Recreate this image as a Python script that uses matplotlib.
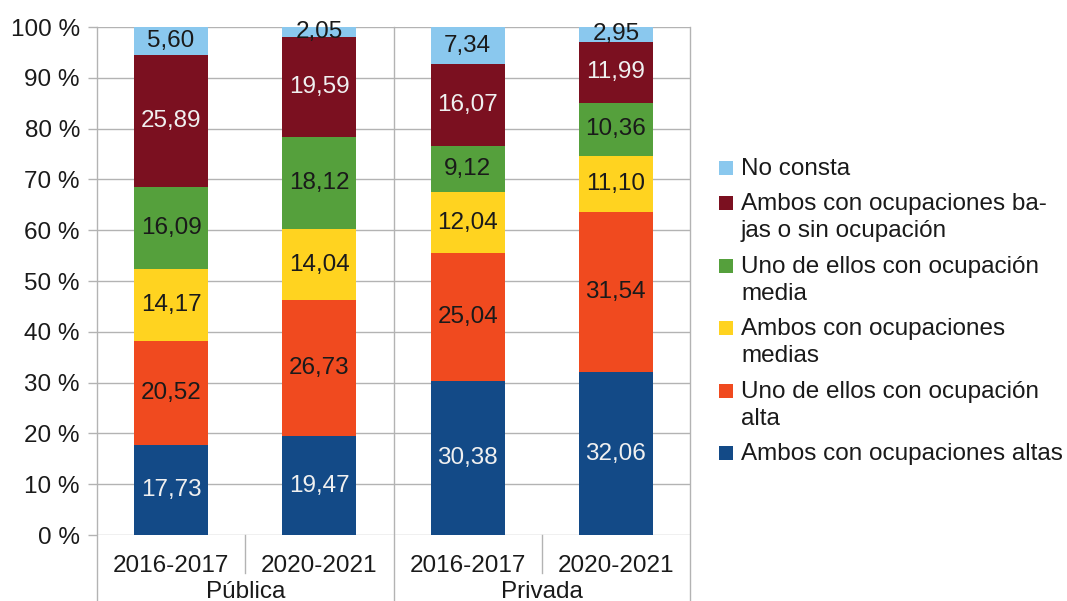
import numpy as np
import matplotlib.pyplot as plt
from matplotlib.patches import Rectangle

plt.rcParams['font.family'] = ['Liberation Sans', 'DejaVu Sans']

years = ['2016-2017', '2020-2021', '2016-2017', '2020-2021']
groups = ['Pública', 'Privada']

series_names = [
    'Ambos con ocupaciones altas',
    'Uno de ellos con ocupación\nalta',
    'Ambos con ocupaciones\nmedias',
    'Uno de ellos con ocupación\nmedia',
    'Ambos con ocupaciones ba-\njas o sin ocupación',
    'No consta',
]
altas = [17.73, 19.47, 30.38, 32.06]
alta = [20.52, 26.73, 25.04, 31.54]
medias = [14.17, 14.04, 12.04, 11.10]
media = [16.09, 18.12, 9.12, 10.36]
bajas = [25.89, 19.59, 16.07, 11.99]
no_consta = [5.60, 2.05, 7.34, 2.95]

yticks = np.arange(0, 101, 10)

series = [altas, alta, medias, media, bajas, no_consta]
colors = ['#134a87', '#f04a1f', '#ffd320', '#55a03c', '#7b1020', '#8ac8ee']
text_colors = ['#f0f0f0', '#1a1a1a', '#1a1a1a', '#1a1a1a', '#f0f0f0', '#1a1a1a']
fs = 17.5
W, H = 1067, 601

fig = plt.figure(figsize=(W / 100, H / 100), dpi=100)
ax = fig.add_axes([97 / W, 1 - 535 / H, (690 - 97) / W, 508 / H])

x = np.arange(len(years))
bottom = np.zeros(len(years))
for vals, color, tcolor in zip(series, colors, text_colors):
    bars = ax.bar(x, vals, width=0.5, bottom=bottom, color=color, zorder=2)
    ax.bar_label(bars, labels=[f'{v:.2f}'.replace('.', ',') for v in vals],
                 label_type='center', color=tcolor, fontsize=fs, zorder=3)
    bottom += np.array(vals)

ax.set_xlim(-0.5, len(years) - 0.5)
ax.set_ylim(0, 100)
ax.set_yticks(yticks, [f'{t} %' for t in yticks])
ax.set_xticks(x, years)
ax.set_axisbelow(True)
ax.yaxis.grid(True, color='#b3b3b3', linewidth=1)
for s in ax.spines.values():
    s.set_visible(False)
ax.tick_params(axis='y', length=6.5, width=1, color='#b3b3b3', pad=5.8,
               labelsize=fs, labelcolor='#1a1a1a')
ax.tick_params(axis='x', length=0, pad=14.4, labelsize=fs, labelcolor='#1a1a1a')

# frame + category separators below the axis
tr = ax.get_xaxis_transform()
for xs in [-0.5, 1.5, 3.5]:
    ax.plot([xs, xs], [1, -0.2], transform=tr, color='#b3b3b3', lw=1, clip_on=False)
for xs in [0.5, 2.5]:
    ax.plot([xs, xs], [0, -0.074], transform=tr, color='#b3b3b3', lw=1, clip_on=False)

for i, g in enumerate(groups):
    ax.text(2 * i + 0.5, -0.124, g, transform=tr, ha='center', va='baseline',
            fontsize=fs, color='#1a1a1a')

# legend, square aligned with the first line of each entry
y_base = 175
for name, color in reversed(list(zip(series_names, colors))):
    lines = name.split('\n')
    fig.patches.append(Rectangle((719 / W, 1 - y_base / H), 14 / W, 14 / H,
                                 transform=fig.transFigure, facecolor=color))
    for k, line in enumerate(lines):
        fig.text(741 / W, 1 - (y_base + 27.3 * k) / H, line, va='baseline',
                 ha='left', fontsize=fs, color='#1a1a1a')
    y_base += 27.3 * (len(lines) - 1) + 35.2

fig.savefig('out.png', dpi=100, facecolor='white')
